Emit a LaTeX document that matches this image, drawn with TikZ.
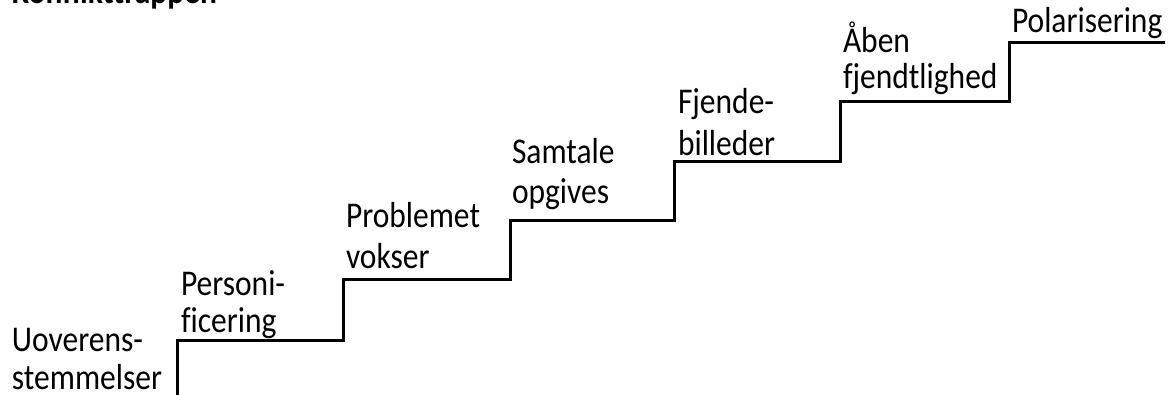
\documentclass[tikz,border=0pt]{standalone}
\usepackage{fontspec}
\setmainfont{Carlito}[Ligatures=NoCommon]
\newcommand{\tallbox}[1]{\scalebox{1}[1.15]{#1}}
\begin{document}
\begin{tikzpicture}[x=1pt,y=-1pt,
  stairline/.style={line width=3pt,line join=miter,black},
  lbl/.style={anchor=base west,inner sep=0pt,outer sep=0pt,
              font=\fontsize{31.5}{39}\selectfont},
  ttl/.style={anchor=base west,inner sep=0pt,outer sep=0pt,
              font=\fontsize{31.5}{39}\selectfont\bfseries}]
\useasboundingbox (0,0) rectangle (1175,394);
\begin{scope}
\clip (0,0) rectangle (1175,394);
% heading
\node[ttl] (title) at (12,3.5) {\tallbox{Konflikttrappen}};
% staircase corners
\coordinate (s0) at (177,396);
\coordinate (s1) at (177,340);
\coordinate (s2) at (343,340);
\coordinate (s3) at (343,279);
\coordinate (s4) at (510,279);
\coordinate (s5) at (510,220);
\coordinate (s6) at (674,220);
\coordinate (s7) at (674,161);
\coordinate (s8) at (840,161);
\coordinate (s9) at (840,101);
\coordinate (s10) at (1009,101);
\coordinate (s11) at (1009,42);
\coordinate (s12) at (1165,42);
\draw[stairline] (s0) -- (s1) -- (s2) -- (s3) -- (s4) -- (s5) -- (s6)
  -- (s7) -- (s8) -- (s9) -- (s10) -- (s11) -- (s12);
% step labels
\node[lbl] (u1) at (12,351) {\tallbox{Uoverens-}};
\node[lbl] (u2) at (12,389.5) {\tallbox{stemmelser}};
\node[lbl] (p1) at (181,295) {\tallbox{Personi-}};
\node[lbl] (p2) at (181,332) {\tallbox{ficering}};
\node[lbl] (v1) at (346,227) {\tallbox{Problemet}};
\node[lbl] (v2) at (346,268) {\tallbox{vokser}};
\node[lbl] (g1) at (512,163) {\tallbox{Samtale}};
\node[lbl] (g2) at (512,203) {\tallbox{opgives}};
\node[lbl] (b1) at (678,113) {\tallbox{Fjende-}};
\node[lbl] (b2) at (678,155) {\tallbox{billeder}};
\node[lbl] (f1) at (843,52) {\tallbox{Åben}};
\node[lbl] (f2) at (843,88) {\tallbox{fjendtlighed}};
\node[lbl] (pol) at (1012,32) {\tallbox{Polarisering}};
\end{scope}
\end{tikzpicture}
\end{document}
